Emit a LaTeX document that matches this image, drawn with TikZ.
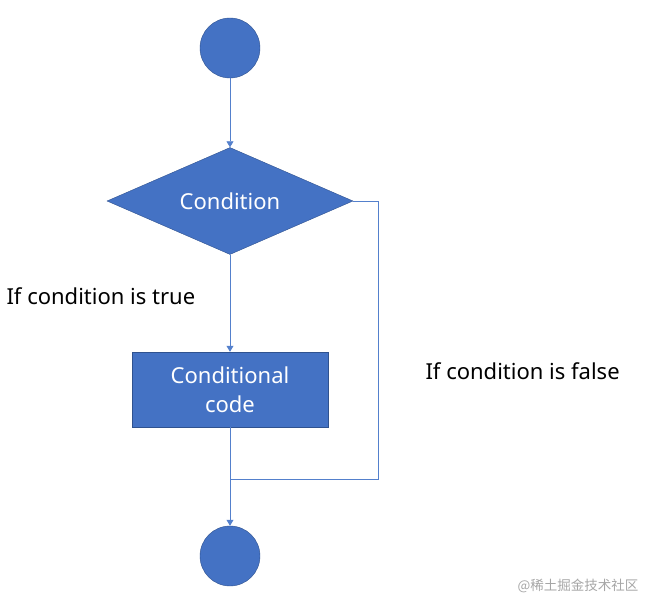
\documentclass[tikz,border=0pt]{standalone}
\usepackage{fontspec}
\setmainfont{Noto Sans}
\newfontfamily\cjk{Noto Sans CJK SC}
\usetikzlibrary{shapes.geometric, arrows.meta, positioning}
\definecolor{flowblue}{RGB}{68,114,196}
\definecolor{flowedge}{RGB}{47,82,143}
\definecolor{flowline}{RGB}{84,128,204}
\tikzset{
  terminal/.style={circle, draw=flowedge, fill=flowblue, minimum size=60pt, inner sep=0pt},
  decision/.style={diamond, aspect=2.3, draw=flowedge, fill=flowblue, minimum width=246pt,
                   minimum height=107pt, inner sep=0pt, text=white,
                   font=\fontsize{22}{26}\selectfont},
  process/.style={rectangle, draw=flowedge, fill=flowblue, minimum width=196pt,
                  minimum height=75pt, text width=180pt, align=center, text=white,
                  font=\fontsize{22}{29}\selectfont},
  flow/.style={-{Triangle[length=6pt, width=7pt]}, draw=flowline, line width=0.8pt},
  plain/.style={draw=flowline, line width=0.8pt},
  caption/.style={font=\fontsize{22}{26}\selectfont, anchor=west},
}

\begin{document}
\begin{tikzpicture}[x=1pt, y=1pt]
  \useasboundingbox (0,0) rectangle (659,611);
  % shapes
  \node[terminal] (start) at (230,563) {};
  \node[decision] (cond) at (230,410) {Condition};
  \node[process] (code) at (230,221.5) {Conditional\\code};
  \node[terminal] (stop) at (230,55) {};
  \coordinate (corner) at (378,132);
  \coordinate (join) at (230,132);
  % connectors
  \draw[flow] (start) -- (cond);
  \draw[flow] (cond) -- (code);
  \draw[flow] (code) -- (stop);
  \draw[plain] (cond.east) -| (corner) -- (join);
  % labels
  \node[caption] (truelbl) at (3,315) {If condition is true};
  \node[caption] (falselbl) at (422,240) {If condition is false};
  \node[font=\cjk\fontsize{13.5}{16}\selectfont, text=black!35, anchor=east] (mark) at (642,25) {@稀土掘金技术社区};
\end{tikzpicture}
\end{document}
